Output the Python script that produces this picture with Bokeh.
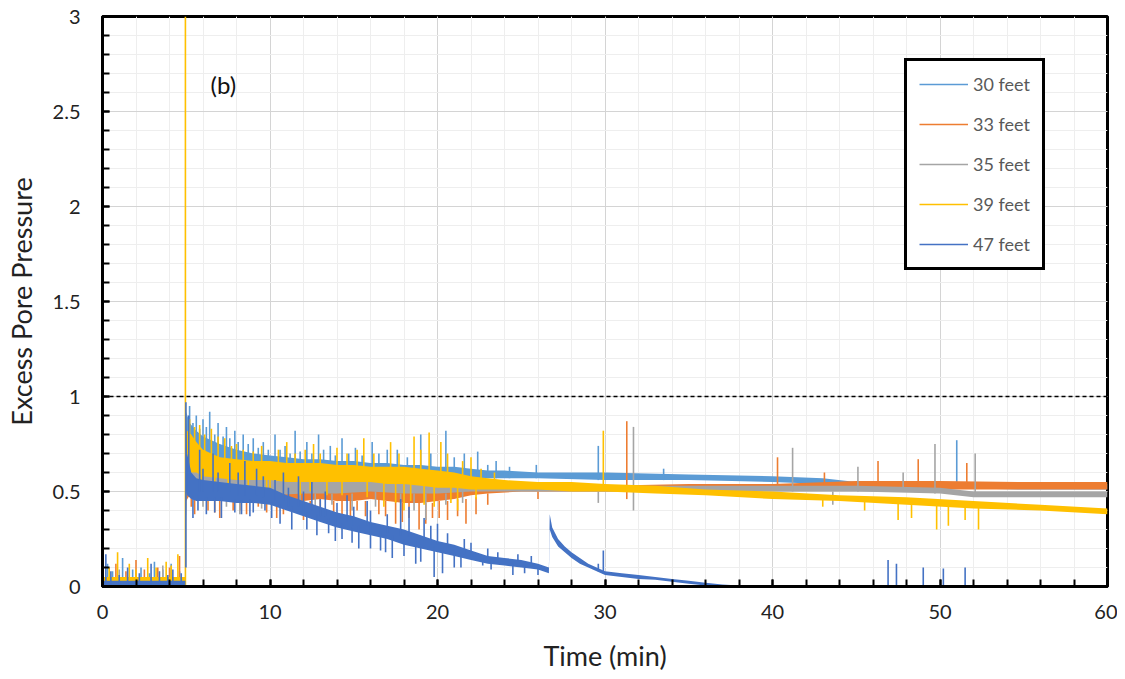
from bokeh.plotting import figure
from bokeh.models import Range1d, SingleIntervalTicker, Legend, LegendItem, Span
from bokeh.core.properties import value
from bokeh.embed import file_html
from bokeh.resources import INLINE

FONT = "Lato"

names = ["30 feet", "33 feet", "35 feet", "39 feet", "47 feet"]
colors = ["#5B9BD5", "#ED7D31", "#A5A5A5", "#FFC000", "#4472C4"]
panel_label = ["(b)"]
threshold = 1.0

# ---- noise envelopes (time, lower edge, upper edge) ----
t30 = [0, 4.95, 5.0, 5.2, 5.6, 6, 7, 8, 9, 10, 11, 12, 13, 14, 15, 16, 17, 18, 19, 20, 21, 22, 23, 24, 26, 30, 35, 40, 43, 45, 50, 55, 60]
lo30 = [0, 0, 0.6, 0.63, 0.62, 0.61, 0.6, 0.59, 0.58, 0.58, 0.58, 0.57, 0.57, 0.57, 0.57, 0.57, 0.57, 0.57, 0.56, 0.56, 0.57, 0.57, 0.57, 0.57, 0.57, 0.56, 0.56, 0.55, 0.54, 0.52, 0.52, 0.51, 0.51]
hi30 = [0.05, 0.05, 0.92, 0.86, 0.82, 0.79, 0.75, 0.72, 0.7, 0.69, 0.68, 0.67, 0.67, 0.66, 0.66, 0.65, 0.65, 0.64, 0.64, 0.63, 0.63, 0.62, 0.61, 0.61, 0.6, 0.6, 0.59, 0.58, 0.57, 0.55, 0.545, 0.54, 0.54]

t33 = [0, 4.95, 5.0, 5.2, 5.6, 6, 7, 8, 9, 10, 11, 12, 13, 14, 15, 16, 17, 18, 19, 20, 21, 22, 23, 25, 30, 35, 40, 45, 50, 55, 60]
lo33 = [0, 0, 0.45, 0.48, 0.47, 0.46, 0.46, 0.45, 0.45, 0.45, 0.45, 0.45, 0.46, 0.45, 0.45, 0.46, 0.45, 0.44, 0.44, 0.45, 0.46, 0.48, 0.49, 0.5, 0.5, 0.5, 0.51, 0.51, 0.51, 0.51, 0.51]
hi33 = [0.05, 0.05, 0.8, 0.72, 0.66, 0.62, 0.58, 0.57, 0.56, 0.55, 0.55, 0.55, 0.55, 0.55, 0.55, 0.54, 0.54, 0.55, 0.55, 0.54, 0.54, 0.54, 0.53, 0.53, 0.53, 0.54, 0.54, 0.555, 0.555, 0.55, 0.55]

t35 = [0, 4.95, 5.0, 5.2, 5.6, 6, 7, 8, 9, 10, 12, 14, 16, 18, 20, 22, 24, 26, 30, 35, 40, 45, 50, 52, 55, 60]
lo35 = [0, 0, 0.5, 0.5, 0.49, 0.49, 0.49, 0.48, 0.48, 0.48, 0.49, 0.49, 0.5, 0.49, 0.49, 0.5, 0.5, 0.5, 0.5, 0.5, 0.5, 0.5, 0.49, 0.47, 0.47, 0.47]
hi35 = [0.04, 0.04, 0.78, 0.7, 0.64, 0.6, 0.58, 0.56, 0.56, 0.56, 0.56, 0.56, 0.56, 0.56, 0.55, 0.54, 0.54, 0.53, 0.53, 0.53, 0.53, 0.53, 0.52, 0.5, 0.5, 0.5]

t39 = [0, 4.95, 5.0, 5.05, 5.3, 5.6, 6, 7, 8, 9, 10, 11, 12, 13, 14, 15, 16, 17, 18, 19, 20, 21, 22, 23, 24, 26, 28, 30, 33, 36, 40, 44, 48, 52, 56, 60]
lo39 = [0, 0, 0.62, 0.62, 0.6, 0.6, 0.58, 0.57, 0.56, 0.56, 0.56, 0.55, 0.55, 0.55, 0.55, 0.55, 0.55, 0.54, 0.54, 0.53, 0.52, 0.52, 0.51, 0.51, 0.51, 0.51, 0.5, 0.5, 0.49, 0.48, 0.46, 0.45, 0.43, 0.41, 0.4, 0.38]
hi39 = [0.05, 0.05, 0.82, 0.82, 0.8, 0.76, 0.72, 0.68, 0.67, 0.66, 0.66, 0.65, 0.65, 0.65, 0.64, 0.64, 0.63, 0.63, 0.63, 0.62, 0.61, 0.6, 0.58, 0.57, 0.56, 0.55, 0.55, 0.54, 0.53, 0.51, 0.5, 0.48, 0.47, 0.45, 0.43, 0.41]

t47 = [0, 4.95, 5.0, 5.05, 5.3, 5.6, 6, 7, 8, 9, 10, 11, 12, 13, 14, 15, 16, 17, 18, 19, 20, 21, 22, 23, 24, 25, 26, 26.65, 26.7, 26.85, 27.2, 27.6, 28, 28.5, 29, 30, 31, 32, 33, 34, 35, 36, 37, 38, 60]
lo47 = [0, 0, 0.5, 0.48, 0.46, 0.45, 0.45, 0.45, 0.44, 0.44, 0.43, 0.4, 0.37, 0.34, 0.31, 0.29, 0.27, 0.25, 0.22, 0.2, 0.18, 0.16, 0.14, 0.12, 0.11, 0.1, 0.09, 0.07, 0.3, 0.26, 0.21, 0.18, 0.15, 0.12, 0.1, 0.06, 0.05, 0.04, 0.035, 0.025, 0.015, 0.005, 0, 0, 0]
hi47 = [0.03, 0.03, 0.9, 0.7, 0.6, 0.57, 0.56, 0.55, 0.54, 0.53, 0.52, 0.48, 0.45, 0.42, 0.39, 0.37, 0.34, 0.32, 0.3, 0.27, 0.24, 0.22, 0.19, 0.16, 0.15, 0.14, 0.12, 0.1, 0.38, 0.31, 0.25, 0.21, 0.18, 0.15, 0.12, 0.08, 0.07, 0.06, 0.05, 0.04, 0.03, 0.02, 0.01, 0.005, 0.005]

# ---- spikes (time, from, to) ----
sp30 = [(0.3, 0, 0.12), (1.2, 0, 0.15), (2.3, 0, 0.1), (3.1, 0, 0.13), (4.1, 0, 0.12),
        (0.6, 0, 0.08), (1.8, 0, 0.09), (2.8, 0, 0.07), (3.6, 0, 0.09), (4.6, 0, 0.08),
        (5.2, 0.6, 0.95), (5.6, 0.6, 0.9), (6.0, 0.6, 0.88), (6.4, 0.6, 0.92), (6.9, 0.6, 0.86),
        (7.4, 0.6, 0.84), (7.9, 0.58, 0.82), (8.4, 0.58, 0.8), (9.0, 0.58, 0.78), (9.6, 0.58, 0.76),
        (10.3, 0.58, 0.8), (10.9, 0.58, 0.74), (11.5, 0.57, 0.82), (12.2, 0.57, 0.76), (12.9, 0.57, 0.8),
        (13.6, 0.57, 0.74), (14.3, 0.57, 0.78), (15.1, 0.57, 0.73), (16.1, 0.57, 0.76), (17.0, 0.57, 0.72),
        (17.6, 0.57, 0.72), (19.0, 0.56, 0.8), (20.5, 0.56, 0.82), (21.6, 0.57, 0.7), (22.4, 0.57, 0.71),
        (23.5, 0.57, 0.66), (25.9, 0.57, 0.64), (29.6, 0.56, 0.74), (33.5, 0.56, 0.62), (51.0, 0.54, 0.77),
        (5.4, 0.6, 0.86), (5.8, 0.6, 0.83), (6.2, 0.6, 0.84), (6.7, 0.6, 0.8), (7.2, 0.6, 0.79),
        (7.6, 0.6, 0.78), (8.1, 0.58, 0.76), (8.7, 0.58, 0.75), (9.3, 0.58, 0.73), (9.9, 0.58, 0.72),
        (10.6, 0.58, 0.72), (11.2, 0.57, 0.7), (11.8, 0.57, 0.71), (12.5, 0.57, 0.7), (13.2, 0.57, 0.72),
        (13.9, 0.57, 0.69), (14.7, 0.57, 0.7), (15.5, 0.57, 0.69), (16.5, 0.57, 0.7), (18.2, 0.57, 0.68),
        (19.6, 0.56, 0.7), (21.0, 0.56, 0.68), (23.0, 0.57, 0.64), (24.3, 0.57, 0.63)]
sp33 = [(0.8, 0, 0.12), (2.0, 0, 0.14), (3.3, 0, 0.1), (4.6, 0, 0.16), (1.4, 0, 0.08), (2.5, 0, 0.09), (4.0, 0, 0.1),
        (5.5, 0.46, 0.38), (6.3, 0.46, 0.4), (7.0, 0.46, 0.36), (7.8, 0.45, 0.4), (8.6, 0.45, 0.38),
        (9.3, 0.45, 0.42), (10.4, 0.45, 0.36), (11.2, 0.45, 0.4), (12.0, 0.45, 0.35), (13.0, 0.46, 0.4),
        (13.8, 0.45, 0.37), (15.2, 0.45, 0.4), (16.5, 0.46, 0.38), (17.5, 0.45, 0.33), (18.3, 0.44, 0.36),
        (18.9, 0.44, 0.3), (19.7, 0.44, 0.36), (20.6, 0.45, 0.35), (21.7, 0.46, 0.33), (23.0, 0.49, 0.43),
        (26.0, 0.5, 0.46), (31.3, 0.46, 0.87), (40.3, 0.52, 0.68), (43.1, 0.52, 0.6), (46.3, 0.52, 0.66),
        (48.7, 0.52, 0.67), (51.6, 0.52, 0.65),
        (5.3, 0.5, 0.42), (6.7, 0.46, 0.39), (8.2, 0.45, 0.4), (9.8, 0.45, 0.39), (10.8, 0.45, 0.38),
        (11.6, 0.45, 0.4), (12.4, 0.45, 0.38), (14.3, 0.45, 0.38), (14.8, 0.45, 0.36), (15.7, 0.45, 0.37),
        (16.9, 0.45, 0.37), (17.9, 0.44, 0.34), (19.3, 0.44, 0.33), (20.1, 0.45, 0.36), (21.2, 0.46, 0.37),
        (22.3, 0.47, 0.38)]
sp35 = [(1.0, 0, 0.09), (3.6, 0, 0.11), (8.2, 0.48, 0.38), (11.8, 0.49, 0.39), (14.9, 0.49, 0.4),
        (19.3, 0.49, 0.35), (29.6, 0.5, 0.44), (31.7, 0.4, 0.84), (41.2, 0.5, 0.73), (43.6, 0.5, 0.43),
        (45.1, 0.5, 0.63), (47.8, 0.5, 0.6), (49.7, 0.49, 0.75), (52.1, 0.48, 0.7),
        (6.0, 0.49, 0.42), (7.4, 0.49, 0.42), (9.5, 0.48, 0.41), (10.9, 0.48, 0.42), (12.7, 0.49, 0.42),
        (13.7, 0.49, 0.43), (16.3, 0.5, 0.42), (17.8, 0.49, 0.4), (18.6, 0.49, 0.4), (20.5, 0.49, 0.43),
        (21.5, 0.5, 0.44)]
sp39 = [(0.9, 0, 0.18), (1.6, 0, 0.12), (2.7, 0, 0.15), (3.8, 0, 0.13), (4.5, 0, 0.17), (4.95, 0, 3.0),
        (0.4, 0, 0.1), (2.0, 0, 0.09), (3.2, 0, 0.1), (4.1, 0, 0.11),
        (5.8, 0.65, 0.85), (6.5, 0.62, 0.83), (7.3, 0.6, 0.78), (8.0, 0.6, 0.75), (9.5, 0.6, 0.74),
        (11.0, 0.6, 0.76), (12.6, 0.6, 0.75), (14.0, 0.6, 0.73), (15.6, 0.6, 0.78), (17.2, 0.58, 0.76),
        (18.6, 0.58, 0.79), (19.5, 0.57, 0.81), (20.2, 0.56, 0.76), (22.0, 0.55, 0.68), (29.9, 0.52, 0.82),
        (5.2, 0.62, 0.88), (5.5, 0.62, 0.84), (6.1, 0.62, 0.8), (6.9, 0.6, 0.79), (7.7, 0.6, 0.74),
        (8.4, 0.6, 0.72), (9.0, 0.6, 0.71), (10.5, 0.6, 0.72), (11.5, 0.6, 0.7), (12.1, 0.6, 0.72),
        (13.0, 0.6, 0.7), (14.6, 0.6, 0.7), (15.2, 0.6, 0.72), (16.2, 0.6, 0.7), (17.7, 0.58, 0.7),
        (19.0, 0.58, 0.72), (20.6, 0.56, 0.7), (21.5, 0.55, 0.66), (22.6, 0.55, 0.62), (23.4, 0.54, 0.6),
        (6.7, 0.6, 0.5), (10.0, 0.58, 0.46), (13.4, 0.58, 0.48), (16.8, 0.57, 0.42), (18.0, 0.57, 0.4),
        (19.8, 0.56, 0.42), (21.2, 0.55, 0.4), (43.0, 0.46, 0.42), (45.5, 0.45, 0.4), (47.5, 0.45, 0.35),
        (48.3, 0.44, 0.36), (49.8, 0.44, 0.3), (50.5, 0.44, 0.32), (51.5, 0.43, 0.35), (52.3, 0.43, 0.3),
        (5.9, 0.6, 0.52), (7.5, 0.6, 0.5), (8.7, 0.58, 0.5), (9.8, 0.58, 0.5), (11.8, 0.58, 0.48),
        (12.4, 0.58, 0.5), (14.3, 0.57, 0.48), (15.8, 0.57, 0.47), (17.5, 0.57, 0.44), (18.4, 0.56, 0.45),
        (19.2, 0.56, 0.43), (20.8, 0.55, 0.44), (22.3, 0.53, 0.46)]
sp47 = [(0.2, 0, 0.17), (1.5, 0, 0.1), (2.9, 0, 0.12), (4.2, 0, 0.09),
        (0.5, 0, 0.08), (1.0, 0, 0.06), (2.2, 0, 0.07), (3.4, 0, 0.08), (3.9, 0, 0.06), (4.7, 0, 0.07),
        (4.98, 0.1, 0.97), (5.15, 0.5, 0.9),
        (5.8, 0.5, 0.72), (6.6, 0.5, 0.7), (7.6, 0.5, 0.65), (8.5, 0.48, 0.66), (9.2, 0.48, 0.62),
        (10.8, 0.45, 0.6), (11.7, 0.42, 0.58), (12.5, 0.4, 0.55), (13.3, 0.37, 0.5), (14.6, 0.34, 0.48),
        (15.8, 0.32, 0.45), (17.8, 0.27, 0.46), (18.3, 0.26, 0.42), (19.2, 0.24, 0.36), (20.0, 0.22, 0.33),
        (22.0, 0.16, 0.23), (23.6, 0.14, 0.18),
        (6.0, 0.5, 0.62), (6.9, 0.5, 0.6), (8.1, 0.48, 0.6), (9.6, 0.47, 0.58), (10.3, 0.45, 0.56),
        (11.1, 0.42, 0.52), (12.0, 0.4, 0.5), (13.0, 0.37, 0.46), (14.0, 0.34, 0.44), (15.0, 0.32, 0.42),
        (16.0, 0.3, 0.4), (17.0, 0.28, 0.38), (19.6, 0.22, 0.32), (20.6, 0.2, 0.28), (21.6, 0.17, 0.25),
        (23.0, 0.15, 0.2), (24.8, 0.13, 0.17), (25.6, 0.12, 0.16),
        (5.4, 0.48, 0.36), (6.2, 0.47, 0.38), (7.1, 0.47, 0.36), (7.9, 0.46, 0.39), (8.8, 0.46, 0.37),
        (9.7, 0.45, 0.4), (11.3, 0.42, 0.3), (12.8, 0.38, 0.27), (13.9, 0.35, 0.24), (15.3, 0.32, 0.2),
        (16.6, 0.29, 0.19), (17.3, 0.27, 0.15), (18.7, 0.24, 0.12), (19.8, 0.21, 0.05), (20.3, 0.2, 0.07),
        (21.4, 0.18, 0.1), (22.7, 0.15, 0.11), (24.5, 0.12, 0.06),
        (5.7, 0.48, 0.4), (6.7, 0.47, 0.39), (8.3, 0.46, 0.38), (9.0, 0.45, 0.39), (10.1, 0.44, 0.36),
        (10.6, 0.43, 0.33), (12.2, 0.39, 0.3), (13.5, 0.36, 0.28), (14.3, 0.33, 0.25), (14.9, 0.31, 0.23),
        (16.0, 0.29, 0.2), (16.9, 0.27, 0.18), (18.0, 0.25, 0.16), (19.0, 0.22, 0.13), (21.0, 0.18, 0.1),
        (23.2, 0.14, 0.09), (25.2, 0.11, 0.07), (26.0, 0.1, 0.06),
        (29.6, 0.08, 0.12), (29.9, 0.07, 0.19), (46.9, 0, 0.14), (47.4, 0, 0.12), (49.0, 0, 0.1),
        (50.2, 0, 0.095), (51.5, 0, 0.1)]

envelopes = [(t30, lo30, hi30), (t33, lo33, hi33), (t35, lo35, hi35), (t39, lo39, hi39), (t47, lo47, hi47)]
spikes = [sp30, sp33, sp35, sp39, sp47]

p = figure(frame_width=1005, frame_height=570, output_backend="svg", toolbar_location=None,
           x_range=Range1d(0, 60), y_range=Range1d(0, 3),
           min_border_left=102, min_border_right=10, min_border_top=16, min_border_bottom=90)
p.background_fill_color = "white"
p.border_fill_color = "white"
p.outline_line_color = "black"
p.outline_line_alpha = 1.0
p.outline_line_width = 3

xt = SingleIntervalTicker(interval=10, num_minor_ticks=5)
yt = SingleIntervalTicker(interval=0.5, num_minor_ticks=5)
p.xaxis.ticker = xt
p.yaxis.ticker = yt
p.xgrid.ticker = xt
p.ygrid.ticker = yt
for g in (p.xgrid, p.ygrid):
    g.grid_line_color = "#D4D4D4"
    g.grid_line_width = 1
    g.minor_grid_line_color = "#EEEEEE"
    g.minor_grid_line_width = 1

for ax in (p.xaxis, p.yaxis):
    ax.axis_line_width = 3
    ax.axis_line_color = "black"
    ax.major_tick_in = 7
    ax.major_tick_out = 0
    ax.minor_tick_in = 7
    ax.minor_tick_out = 0
    ax.major_tick_line_width = 2
    ax.minor_tick_line_width = 2
    ax.major_label_text_font = FONT
    ax.major_label_text_font_size = "20px"
    ax.major_label_text_color = "#222222"
    ax.axis_label_text_font = FONT
    ax.axis_label_text_font_size = "27px"
    ax.axis_label_text_font_style = "normal"
    ax.axis_label_text_color = "#222222"

p.xaxis.axis_label = "Time (min)"
p.yaxis.axis_label = "Excess Pore Pressure"
p.xaxis.major_label_standoff = 18
p.yaxis.major_label_standoff = 22
p.xaxis.axis_label_standoff = 17
p.yaxis.axis_label_standoff = 12

p.add_layout(Span(location=threshold, dimension="width", line_color="black",
                  line_width=1.5, line_dash="4 3"))

items = []
for name, color, (t, lo, hi), sp in zip(names, colors, envelopes, spikes):
    p.varea(x=t, y1=lo, y2=hi, fill_color=color, fill_alpha=1.0)
    st = [s[0] for s in sp]
    s0 = [s[1] for s in sp]
    s1 = [s[2] for s in sp]
    r = p.segment(x0=st, y0=s0, x1=st, y1=s1, line_color=color, line_width=1.6)
    items.append(LegendItem(label=name, renderers=[r]))

p.text(x=[6.45], y=[2.64], text=panel_label, text_font=value(FONT), text_font_size="24px",
       text_baseline="middle", text_align="left", text_color="#111111")

legend = Legend(items=items, location=(802, 316))
legend.border_line_color = "black"
legend.border_line_alpha = 1.0
legend.border_line_width = 3
legend.background_fill_color = "white"
legend.background_fill_alpha = 1.0
legend.label_text_font = FONT
legend.label_text_font_size = "18px"
legend.label_text_color = "#595959"
legend.glyph_width = 49
legend.glyph_height = 20
legend.label_height = 20
legend.spacing = 18
legend.padding = 12
legend.margin = 0
legend.label_standoff = 5
p.add_layout(legend)

open("out.html", "w").write(file_html(p, INLINE))
